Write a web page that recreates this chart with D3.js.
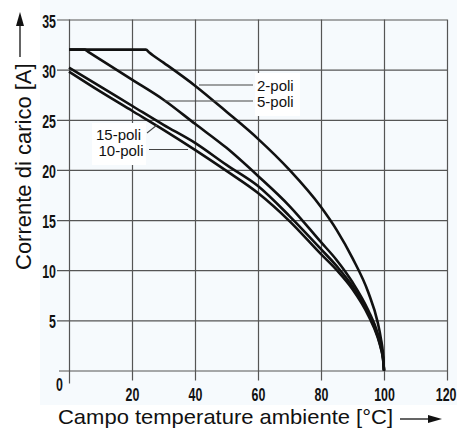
<!DOCTYPE html>
<html>
<head>
<meta charset="utf-8">
<script src="https://cdn.jsdelivr.net/npm/d3@7"></script>
<style>
    body { margin: 0; background: #fff; }
    svg { display: block; }
</style>
</head>
<body>
<div id="chart"></div>
<script>
// values
const seriesNames = ["2-poli", "5-poli", "15-poli", "10-poli"];

const temp2 = [0, 24.4, 25.5, 30, 40, 50, 60, 70, 80, 85, 90, 95, 98, 99, 99.7, 100];
const curr2 = [32, 32, 31.7, 30.7, 28.4, 25.8, 23.1, 20.0, 16.3, 14.0, 11.2, 7.8, 4.8, 3.2, 1.6, 0];

const temp5 = [0, 5, 6, 10, 20, 30, 40, 50, 60, 70, 80, 85, 90, 95, 98, 99, 99.7, 100];
const curr5 = [32, 32, 31.8, 31.0, 29.0, 27.0, 24.6, 22.2, 19.4, 16.4, 12.8, 11.0, 8.8, 6.0, 3.7, 2.5, 1.3, 0];

const temp15 = [0, 10, 20, 30, 40, 50, 60, 70, 80, 85, 90, 95, 98, 99, 99.7, 100];
const curr15 = [30.2, 28.3, 26.4, 24.5, 22.7, 20.5, 18.4, 15.4, 12.1, 10.4, 8.4, 5.7, 3.4, 2.3, 1.2, 0];

const temp10 = [0, 10, 20, 30, 40, 50, 60, 70, 80, 85, 90, 95, 98, 99, 99.7, 100];
const curr10 = [29.8, 27.8, 25.9, 24.0, 22.0, 19.9, 17.7, 14.9, 11.6, 10.0, 8.1, 5.5, 3.3, 2.2, 1.1, 0];

const xTicks = [0, 20, 40, 60, 80, 100, 120];
const yTicks = [0, 5, 10, 15, 20, 25, 30, 35];

const xTitle = "Campo temperature ambiente [°C]";
const yTitle = "Corrente di carico [A]";

const series = [
    { name: seriesNames[0], temps: temp2, values: curr2 },
    { name: seriesNames[1], temps: temp5, values: curr5 },
    { name: seriesNames[2], temps: temp15, values: curr15 },
    { name: seriesNames[3], temps: temp10, values: curr10 }
];

const W = 457, H = 428;
const MARGIN = { LEFT: 69, RIGHT: 10, TOP: 19.5, BOTTOM: 57.5 };
const WIDTH = W - MARGIN.LEFT - MARGIN.RIGHT;
const HEIGHT = H - MARGIN.TOP - MARGIN.BOTTOM;

const GRID = "#555";
const tickFont = "'Liberation Sans', Arial, Helvetica, sans-serif";
const textFont = "'Liberation Sans', Arial, Helvetica, sans-serif";
const SX = 0.69; // horizontal squeeze for the condensed tick digits

const svg = d3.select("#chart").append("svg")
    .attr("width", W)
    .attr("height", H);

// faint tint of the scanned sheet
svg.append("rect")
    .attr("x", 40).attr("y", 0)
    .attr("width", W - 40).attr("height", 405)
    .attr("fill", "#f6fafd");

const g = svg.append("g")
    .attr("transform", `translate(${MARGIN.LEFT}, ${MARGIN.TOP})`);

const x = d3.scaleLinear().domain([0, 120]).range([0, WIDTH]);
const y = d3.scaleLinear().domain([0, 35]).range([HEIGHT, 0]);

function styleTick(sel) {
    sel.style("font-family", tickFont)
        .style("font-weight", "bold")
        .style("font-size", "18px")
        .attr("fill", "#111")
        .attr("transform", `scale(${SX}, 1)`);
}

// y grid + labels
const yAxis = g.append("g")
    .call(d3.axisLeft(y)
        .tickValues(yTicks)
        .tickSizeInner(-WIDTH)
        .tickSizeOuter(0)
        .tickFormat(d => d === 0 ? "" : d));
yAxis.select(".domain").remove();
yAxis.selectAll(".tick line")
    .attr("x1", d => d === 0 ? -10 : -12)
    .attr("stroke", GRID)
    .attr("stroke-width", 1.2);
yAxis.selectAll(".tick text")
    .attr("x", -13 / SX)
    .attr("dy", "0.42em")
    .call(styleTick);

// x grid + labels
const xAxis = g.append("g")
    .attr("transform", `translate(0, ${HEIGHT})`)
    .call(d3.axisBottom(x)
        .tickValues(xTicks)
        .tickSizeInner(-HEIGHT)
        .tickSizeOuter(0)
        .tickPadding(17.5)
        .tickFormat(d => d === 0 ? "" : d));
xAxis.select(".domain").remove();
xAxis.selectAll(".tick line")
    .attr("y1", d => d === 0 ? 13 : 10)
    .attr("stroke", GRID)
    .attr("stroke-width", 1.2);
xAxis.selectAll(".tick text")
    .call(styleTick);
// last label sits against the page edge
xAxis.selectAll(".tick text")
    .filter(d => d === 120)
    .attr("text-anchor", "end")
    .attr("x", 9 / SX);

// shared origin label
g.append("g")
    .attr("transform", `translate(${x(0) - 9.5}, ${y(0) + 20.5})`)
    .append("text")
    .attr("text-anchor", "middle")
    .text("0")
    .call(styleTick);

// label boxes hide the grid behind the text
g.append("rect")
    .attr("x", 255 - MARGIN.LEFT).attr("y", 73 - MARGIN.TOP)
    .attr("width", 45).attr("height", 43)
    .attr("fill", "#fff");
g.append("rect")
    .attr("x", 92 - MARGIN.LEFT).attr("y", 123 - MARGIN.TOP)
    .attr("width", 54).attr("height", 42)
    .attr("fill", "#fff");

// curves
const line = d3.line()
    .x(d => x(d[0]))
    .y(d => y(d[1]))
    .curve(d3.curveMonotoneX);

g.selectAll(".curve")
    .data(series)
    .join("path")
    .attr("class", "curve")
    .attr("d", s => line(s.temps.map((t, i) => [t, s.values[i]])))
    .attr("fill", "none")
    .attr("stroke", "#111")
    .attr("stroke-width", 2.6)
    .attr("stroke-linejoin", "round");

// curve labels with leader lines (page coords)
const leaders = [
    { x1: 199, y1: 85, x2: 253, y2: 85 },
    { x1: 164, y1: 101, x2: 253, y2: 101 },
    { x1: 147, y1: 133, x2: 157, y2: 125 },
    { x1: 149, y1: 149.5, x2: 188, y2: 149.5 }
];
const labelPos = [
    { x: 257, y: 90.5, anchor: "start" },
    { x: 257, y: 106.5, anchor: "start" },
    { x: 141, y: 139.5, anchor: "end" },
    { x: 143.5, y: 155.5, anchor: "end" }
];

svg.selectAll(".leader")
    .data(leaders)
    .join("line")
    .attr("class", "leader")
    .attr("x1", d => d.x1).attr("y1", d => d.y1)
    .attr("x2", d => d.x2).attr("y2", d => d.y2)
    .attr("stroke", "#444")
    .attr("stroke-width", 1.1);

svg.selectAll(".curve-label")
    .data(seriesNames)
    .join("text")
    .attr("class", "curve-label")
    .attr("x", (d, i) => labelPos[i].x)
    .attr("y", (d, i) => labelPos[i].y)
    .attr("text-anchor", (d, i) => labelPos[i].anchor)
    .style("font-family", textFont)
    .style("font-size", "15px")
    .attr("fill", "#111")
    .text(d => d);

// axis titles with arrows
svg.append("text")
    .attr("x", 58)
    .attr("y", 423.5)
    .attr("textLength", 335)
    .attr("lengthAdjust", "spacingAndGlyphs")
    .style("font-family", textFont)
    .style("font-size", "21px")
    .attr("fill", "#111")
    .text(xTitle);
svg.append("line")
    .attr("x1", 400).attr("y1", 419)
    .attr("x2", 430).attr("y2", 419)
    .attr("stroke", "#111").attr("stroke-width", 1.3);
svg.append("path")
    .attr("d", "M428,415L442,419L428,423Z")
    .attr("fill", "#111");

svg.append("text")
    .attr("transform", "translate(31, 270) rotate(-90)")
    .style("font-family", textFont)
    .style("font-size", "22px")
    .attr("fill", "#111")
    .text(yTitle);
svg.append("line")
    .attr("x1", 20).attr("y1", 57)
    .attr("x2", 20).attr("y2", 24)
    .attr("stroke", "#111").attr("stroke-width", 1.3);
svg.append("path")
    .attr("d", "M16,26L20,12L24,26Z")
    .attr("fill", "#111");
</script>
</body>
</html>
